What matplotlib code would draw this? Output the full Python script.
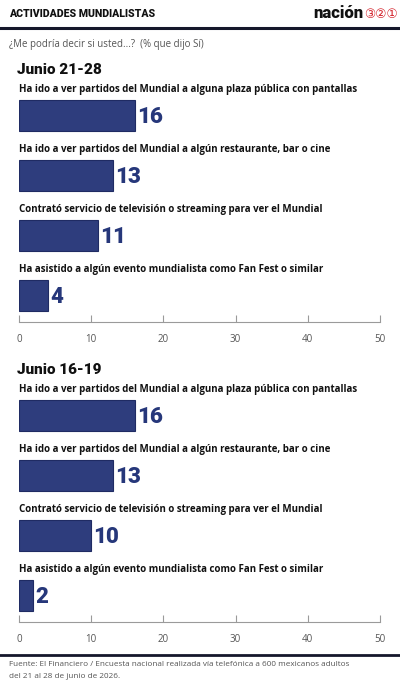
import matplotlib.pyplot as plt
from matplotlib.lines import Line2D

plt.rcParams['font.family'] = ['Open Sans', 'DejaVu Sans']

# Data
actividades = [
    "Ha ido a ver partidos del Mundial a alguna plaza pública con pantallas",
    "Ha ido a ver partidos del Mundial a algún restaurante, bar o cine",
    "Contrató servicio de televisión o streaming para ver el Mundial",
    "Ha asistido a algún evento mundialista como Fan Fest o similar",
]
junio_21_28 = [16, 13, 11, 4]
junio_16_19 = [16, 13, 10, 2]
periodos = ["Junio 21-28", "Junio 16-19"]
xticks = [0, 10, 20, 30, 40, 50]

W, H = 400, 685
bar_color = '#2e3d7d'
edge_color = '#1f2b63'
value_color = '#26377a'
axis_gray = '#9a9a9a'

fig = plt.figure(figsize=(W / 100, H / 100), dpi=100)
fig.patch.set_facecolor('white')


def fy(px):
    return 1 - px / H


# header
fig.text(9 / W, fy(14), "ACTIVIDADES MUNDIALISTAS", fontsize=7.6, fontweight='black',
         color='#111111', va='center', ha='left', family='Roboto')
fig.text(363 / W, fy(13), "nación", fontsize=12, fontweight='black', color='#111111',
         va='center', ha='right', family='Roboto')
fig.text(364 / W, fy(14), "③②①", fontsize=9, color='#d4212a', va='center', ha='left',
         family='DejaVu Sans')
fig.add_artist(Line2D([0, 1], [fy(28), fy(28)], color='#15172b', lw=2.2,
                      transform=fig.transFigure))
fig.text(9 / W, fy(45), "¿Me podría decir si usted...?  (% que dijo Sí)", fontsize=7.0,
         color='#555555', va='center', ha='left')

# panels
panel_tops = [82, 382]
title_y = [70, 370]
for top, ty, periodo, vals in zip(panel_tops, title_y, periodos, [junio_21_28, junio_16_19]):
    fig.text(17 / W, fy(ty), periodo, fontsize=11, fontweight='black', color='#111111',
             va='center', ha='left', family='Roboto')
    ax = fig.add_axes([19 / W, fy(top + 240), 361 / W, 240 / H])
    ax.set_xlim(0, 50)
    ax.set_ylim(4, 0)
    for i, (lab, v) in enumerate(zip(actividades, vals)):
        ax.text(0, i + 0.13, lab, fontsize=7.05, fontweight='bold', color='#111111',
                va='center', ha='left')
        ax.barh(i + 0.56, v, height=0.52, color=bar_color, edgecolor=edge_color, lw=0.8)
        ax.text(v + 0.3, i + 0.58, str(v), fontsize=16, fontweight='black',
                color=value_color, va='center', ha='left', family='Roboto')
    for s in ['top', 'left', 'right']:
        ax.spines[s].set_visible(False)
    ax.spines['bottom'].set_color(axis_gray)
    ax.spines['bottom'].set_linewidth(0.8)
    ax.set_yticks([])
    ax.set_xticks(xticks)
    ax.tick_params(axis='x', direction='in', length=5, color=axis_gray, width=0.8,
                   labelsize=7, labelcolor='#555555', pad=9)
    ax.patch.set_alpha(0)

# footer
fig.add_artist(Line2D([0, 1], [fy(655), fy(655)], color='#15172b', lw=2,
                      transform=fig.transFigure))
fig.text(9 / W, fy(665), "Fuente: El Financiero / Encuesta nacional realizada vía telefónica a 600 mexicanos adultos",
         fontsize=5.9, color='#555555', va='center', ha='left')
fig.text(9 / W, fy(677), "del 21 al 28 de junio de 2026.", fontsize=5.9, color='#555555',
         va='center', ha='left')

fig.savefig('out.png', dpi=100)
